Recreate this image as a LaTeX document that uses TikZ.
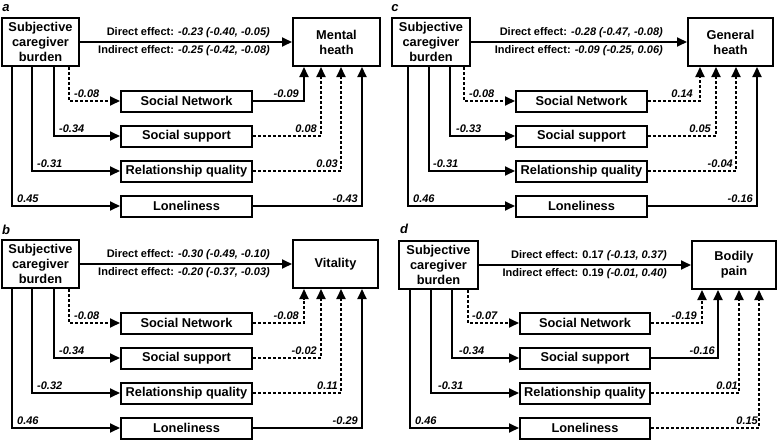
\documentclass[tikz,border=0pt]{standalone}
\usepackage{fontspec}
\setmainfont{Liberation Sans}
\usetikzlibrary{arrows.meta}
\begin{document}
\begin{tikzpicture}[x=1pt,y=-1pt,
  box/.style={draw, line width=2pt, inner sep=0pt, align=center, font=\bfseries\fontsize{12.8}{15}\selectfont},
  med/.style={box, minimum width=131pt, minimum height=21pt},
  src/.style={box, minimum width=77pt, minimum height=48pt},
  outc/.style={box, minimum width=86pt, minimum height=48pt},
  conn/.style={line width=1.8pt, -{Triangle[length=10pt,width=9pt]}},
  dsh/.style={dash pattern=on 3pt off 2pt},
  coef/.style={font=\bfseries\itshape\fontsize{11}{12}\selectfont, inner sep=0pt},
  cl/.style={coef, anchor=south west},
  cr/.style={coef, anchor=south east},
  eff/.style={font=\bfseries\fontsize{11}{12}\selectfont, inner sep=0pt, anchor=east},
  plabel/.style={font=\bfseries\itshape\fontsize{13}{14}\selectfont, inner sep=0pt}
]
\useasboundingbox (0,0) rectangle (777,442);

% ---------------- panel a ----------------
\node[plabel] (a-lab) at (6,8) {a};
\node[src] (a-src) at (40.5,42) {Subjective\\caregiver\\burden};
\node[outc, minimum width=87pt] (a-out) at (336.5,42) {Mental\\heath};
\node[med] (a-m1) at (186.5,101) {Social Network};
\node[med] (a-m2) at (186.5,136) {Social support};
\node[med] (a-m3) at (186.5,171) {Relationship quality};
\node[med] (a-m4) at (186.5,206) {Loneliness};
\draw[conn] (a-src.east) -- (a-src.east -| a-out.west);
\node[eff] (a-d) at (270,33) {Direct effect: \textit{-0.23 (-0.40, -0.05)}};
\node[eff] (a-i) at (270,51) {Indirect effect: \textit{-0.25 (-0.42, -0.08)}};
\draw[conn,dsh] ([xshift=68pt]a-src.south west) |- (a-m1.west);
\draw[conn] ([xshift=53pt]a-src.south west) |- (a-m2.west);
\draw[conn] ([xshift=31pt]a-src.south west) |- (a-m3.west);
\draw[conn] ([xshift=11pt]a-src.south west) |- (a-m4.west);
\draw[conn] (a-m1.east) -| ([xshift=12pt]a-out.south west);
\draw[conn,dsh] (a-m2.east) -| ([xshift=29pt]a-out.south west);
\draw[conn,dsh] (a-m3.east) -| ([xshift=49pt]a-out.south west);
\draw[conn] (a-m4.east) -| ([xshift=70pt]a-out.south west);
\node[cl] (a-l1) at (74,98) {-0.08};
\node[cl] (a-l2) at (59,133) {-0.34};
\node[cl] (a-l3) at (37,168) {-0.31};
\node[cl] (a-l4) at (17,203) {0.45};
\node[cr] (a-r1) at (299,98) {-0.09};
\node[cr] (a-r2) at (317,133) {0.08};
\node[cr] (a-r3) at (338,168) {0.03};
\node[cr] (a-r4) at (358,203) {-0.43};

% ---------------- panel b ----------------
\node[plabel] (b-lab) at (6,230) {b};
\node[src] (b-src) at (40.5,264) {Subjective\\caregiver\\burden};
\node[outc, minimum width=85pt] (b-out) at (335.5,264) {Vitality};
\node[med] (b-m1) at (186.5,323) {Social Network};
\node[med] (b-m2) at (186.5,358) {Social support};
\node[med] (b-m3) at (186.5,393) {Relationship quality};
\node[med] (b-m4) at (186.5,428) {Loneliness};
\draw[conn] (b-src.east) -- (b-src.east -| b-out.west);
\node[eff] (b-d) at (270,255) {Direct effect: \textit{-0.30 (-0.49, -0.10)}};
\node[eff] (b-i) at (270,273) {Indirect effect: \textit{-0.20 (-0.37, -0.03)}};
\draw[conn,dsh] ([xshift=68pt]b-src.south west) |- (b-m1.west);
\draw[conn] ([xshift=53pt]b-src.south west) |- (b-m2.west);
\draw[conn] ([xshift=31pt]b-src.south west) |- (b-m3.west);
\draw[conn] ([xshift=11pt]b-src.south west) |- (b-m4.west);
\draw[conn,dsh] (b-m1.east) -| ([xshift=12pt]b-out.south west);
\draw[conn,dsh] (b-m2.east) -| ([xshift=29pt]b-out.south west);
\draw[conn,dsh] (b-m3.east) -| ([xshift=49pt]b-out.south west);
\draw[conn] (b-m4.east) -| ([xshift=70pt]b-out.south west);
\node[cl] (b-l1) at (74,320) {-0.08};
\node[cl] (b-l2) at (59,355) {-0.34};
\node[cl] (b-l3) at (37,390) {-0.32};
\node[cl] (b-l4) at (17,425) {0.46};
\node[cr] (b-r1) at (299,320) {-0.08};
\node[cr] (b-r2) at (317,355) {-0.02};
\node[cr] (b-r3) at (338,390) {0.11};
\node[cr] (b-r4) at (358,425) {-0.29};

% ---------------- panel c ----------------
\node[plabel] (c-lab) at (395,8) {c};
\node[src, minimum width=78pt] (c-src) at (431,42) {Subjective\\caregiver\\burden};
\node[outc, minimum width=85pt] (c-out) at (730.5,42) {General\\heath};
\node[med] (c-m1) at (581.5,101) {Social Network};
\node[med] (c-m2) at (581.5,136) {Social support};
\node[med] (c-m3) at (581.5,171) {Relationship quality};
\node[med] (c-m4) at (581.5,206) {Loneliness};
\draw[conn] (c-src.east) -- (c-src.east -| c-out.west);
\node[eff] (c-d) at (663,33) {Direct effect: \textit{-0.28 (-0.47, -0.08)}};
\node[eff] (c-i) at (663,51) {Indirect effect: \textit{-0.09 (-0.25, 0.06)}};
\draw[conn,dsh] ([xshift=73pt]c-src.south west) |- (c-m1.west);
\draw[conn] ([xshift=59pt]c-src.south west) |- (c-m2.west);
\draw[conn] ([xshift=38pt]c-src.south west) |- (c-m3.west);
\draw[conn] ([xshift=17pt]c-src.south west) |- (c-m4.west);
\draw[conn,dsh] (c-m1.east) -| ([xshift=13pt]c-out.south west);
\draw[conn,dsh] (c-m2.east) -| ([xshift=29pt]c-out.south west);
\draw[conn,dsh] (c-m3.east) -| ([xshift=49pt]c-out.south west);
\draw[conn] (c-m4.east) -| ([xshift=70pt]c-out.south west);
\node[cl] (c-l1) at (469,98) {-0.08};
\node[cl] (c-l2) at (456,133) {-0.33};
\node[cl] (c-l3) at (433,168) {-0.31};
\node[cl] (c-l4) at (413,203) {0.46};
\node[cr] (c-r1) at (693,98) {0.14};
\node[cr] (c-r2) at (711,133) {0.05};
\node[cr] (c-r3) at (733,168) {-0.04};
\node[cr] (c-r4) at (753,203) {-0.16};

% ---------------- panel d ----------------
\node[plabel] (d-lab) at (404,229) {d};
\node[src, minimum width=79pt] (d-src) at (438.5,265) {Subjective\\caregiver\\burden};
\node[outc, minimum width=84pt] (d-out) at (734,265) {Bodily\\pain};
\node[med, minimum width=130pt] (d-m1) at (585,323) {Social Network};
\node[med, minimum width=130pt] (d-m2) at (585,358) {Social support};
\node[med, minimum width=130pt] (d-m3) at (585,393) {Relationship quality};
\node[med, minimum width=130pt] (d-m4) at (585,428) {Loneliness};
\draw[conn] (d-src.east) -- (d-src.east -| d-out.west);
\node[eff] (d-d) at (667,256) {Direct effect: 0.17 \textit{(-0.13, 0.37)}};
\node[eff] (d-i) at (667,274) {Indirect effect: 0.19 \textit{(-0.01, 0.40)}};
\draw[conn,dsh] ([xshift=70pt]d-src.south west) |- (d-m1.west);
\draw[conn] ([xshift=54pt]d-src.south west) |- (d-m2.west);
\draw[conn] ([xshift=33pt]d-src.south west) |- (d-m3.west);
\draw[conn] ([xshift=12pt]d-src.south west) |- (d-m4.west);
\draw[conn,dsh] (d-m1.east) -| ([xshift=11pt]d-out.south west);
\draw[conn] (d-m2.east) -| ([xshift=27pt]d-out.south west);
\draw[conn,dsh] (d-m3.east) -| ([xshift=48pt]d-out.south west);
\draw[conn,dsh] (d-m4.east) -| ([xshift=68pt]d-out.south west);
\node[cl] (d-l1) at (472,320) {-0.07};
\node[cl] (d-l2) at (459,355) {-0.34};
\node[cl] (d-l3) at (438,390) {-0.31};
\node[cl] (d-l4) at (415,425) {0.46};
\node[cr] (d-r1) at (697,320) {-0.19};
\node[cr] (d-r2) at (715,355) {-0.16};
\node[cr] (d-r3) at (738,390) {0.01};
\node[cr] (d-r4) at (758,425) {0.15};
\end{tikzpicture}
\end{document}
